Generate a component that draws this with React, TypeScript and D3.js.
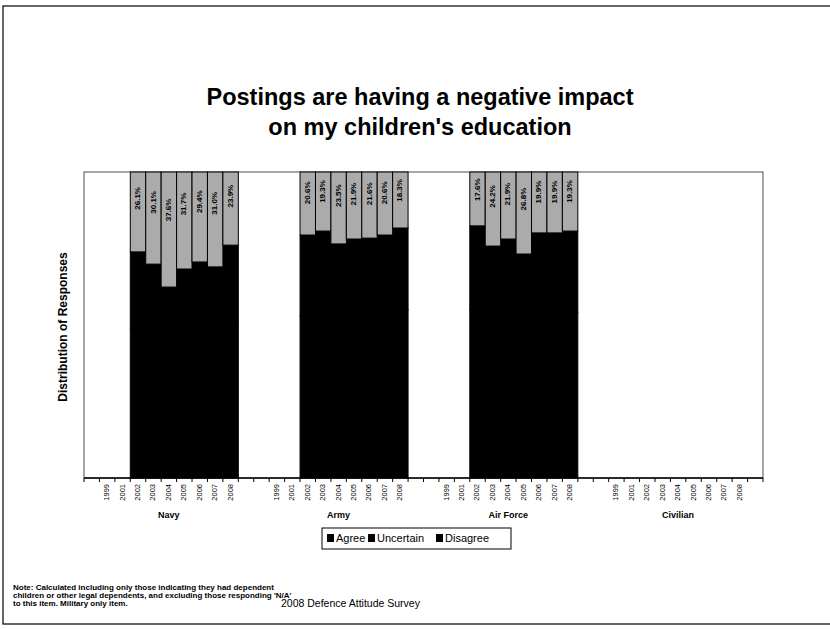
import React from 'react';
import * as d3 from 'd3';

// chart data
const services = ['Navy', 'Army', 'Air Force', 'Civilian'];
const years = ['1999', '2001', '2002', '2003', '2004', '2005', '2006', '2007', '2008'];
const seriesNames = ['Agree', 'Uncertain', 'Disagree'];

// values per service for 2002..2008 (1999/2001 and Civilian have no data)
const navyAgree = [48.5, 45.2, 39.0, 44.1, 46.3, 44.8, 50.6];
const navyUncertain = [25.4, 24.7, 23.4, 24.2, 24.3, 24.2, 25.5];
const navyDisagree = [26.1, 30.1, 37.6, 31.7, 29.4, 31.0, 23.9];

const armyAgree = [52.8, 54.0, 50.2, 51.6, 52.0, 53.1, 55.0];
const armyUncertain = [26.6, 26.7, 26.3, 26.5, 26.4, 26.3, 26.7];
const armyDisagree = [20.6, 19.3, 23.5, 21.9, 21.6, 20.6, 18.3];

const afAgree = [55.1, 49.6, 51.8, 47.0, 53.5, 53.7, 54.2];
const afUncertain = [27.3, 26.2, 26.3, 26.2, 26.6, 26.4, 26.5];
const afDisagree = [17.6, 24.2, 21.9, 26.8, 19.9, 19.9, 19.3];

const dataYears = ['2002', '2003', '2004', '2005', '2006', '2007', '2008'];

// the scan turns agree and uncertain into the same black
const colors: Record<string, string> = {
  Agree: '#000000',
  Uncertain: '#000000',
  Disagree: '#ababab',
};

const FONT = '"Liberation Sans", Arial, sans-serif';

function buildRows() {
  const table: { service: string; year: string; Agree: number; Uncertain: number; Disagree: number }[] = [];
  const per: [string, number[], number[], number[]][] = [
    ['Navy', navyAgree, navyUncertain, navyDisagree],
    ['Army', armyAgree, armyUncertain, armyDisagree],
    ['Air Force', afAgree, afUncertain, afDisagree],
  ];
  per.forEach(([s, a, u, d]) => {
    dataYears.forEach((y, i) => {
      table.push({ service: s, year: y, Agree: a[i], Uncertain: u[i], Disagree: d[i] });
    });
  });
  return table;
}

export default function App() {
  const width = 830;
  const height = 629;
  const margin = { top: 172, right: 67, bottom: 151, left: 84 };
  const plotW = width - margin.left - margin.right;
  const plotH = height - margin.top - margin.bottom;

  // each service gets a blank slot, its years, then another blank slot
  const slots: string[] = [];
  services.forEach((s) => {
    slots.push(s + '|pad0');
    years.forEach((y) => slots.push(s + '|' + y));
    slots.push(s + '|pad1');
  });

  const x = d3.scaleBand().domain(slots).range([margin.left, margin.left + plotW]).padding(0);
  const y = d3.scaleLinear().domain([0, 100]).range([margin.top + plotH, margin.top]);

  const rows = buildRows();
  const stack = d3.stack<any>().keys(seriesNames)(rows);

  const groupW = x.bandwidth() * (years.length + 2);

  return (
    <svg width={width} height={height} style={{ position: 'absolute', left: 0, top: 0, background: '#fff' }} fontFamily={FONT}>
      <rect x={3} y={6} width={860} height={618} fill="none" stroke="#000" strokeWidth={1.2} />

      <text x={420} y={105} textAnchor="middle" fontSize={23.5} fontWeight="bold">
        Postings are having a negative impact
      </text>
      <text x={420} y={135} textAnchor="middle" fontSize={23.5} fontWeight="bold">
        on my children's education
      </text>

      <text
        transform={`translate(67,${margin.top + plotH / 2 + 2}) rotate(-90)`}
        textAnchor="middle"
        fontSize={12}
        fontWeight="bold"
      >
        Distribution of Responses
      </text>

      {/* plot frame */}
      <rect x={margin.left} y={margin.top} width={plotW} height={plotH} fill="#fff" stroke="#222" strokeWidth={0.8} />

      {stack.map((layer) => (
        <g key={layer.key} fill={colors[layer.key]} stroke="#000" strokeWidth={1}>
          {layer.map((d: any, i: number) => (
            <rect
              key={i}
              x={x(d.data.service + '|' + d.data.year)}
              y={y(d[1])}
              width={x.bandwidth()}
              height={y(d[0]) - y(d[1])}
            />
          ))}
        </g>
      ))}

      {stack[2].map((d: any, i: number) => {
        const top = y(d[1]);
        const bot = y(d[0]);
        const cx = (x(d.data.service + '|' + d.data.year) as number) + x.bandwidth() / 2;
        const cy = top + (bot - top) * 0.33;
        return (
          <text
            key={i}
            transform={`translate(${cx},${cy}) rotate(-90)`}
            textAnchor="middle"
            dominantBaseline="middle"
            fontSize={8}
            fontWeight="bold"
            fill="#000"
          >
            {d.data.Disagree.toFixed(1) + '%'}
          </text>
        );
      })}

      {/* x axis */}
      <line x1={margin.left} x2={margin.left + plotW} y1={margin.top + plotH} y2={margin.top + plotH} stroke="#000" strokeWidth={1.5} />
      {slots.map((s, i) => (
        <line
          key={'t' + i}
          x1={x(s) as number}
          x2={x(s) as number}
          y1={margin.top + plotH}
          y2={margin.top + plotH + 4}
          stroke="#000"
          strokeWidth={1}
        />
      ))}
      <line x1={margin.left + plotW} x2={margin.left + plotW} y1={margin.top + plotH} y2={margin.top + plotH + 4} stroke="#000" />

      {services.map((s) =>
        years.map((yr) => (
          <text
            key={s + yr}
            transform={`translate(${(x(s + '|' + yr) as number) + x.bandwidth() / 2},${margin.top + plotH + 6}) rotate(-90)`}
            textAnchor="end"
            dominantBaseline="middle"
            fontSize={7.5}
          >
            {yr}
          </text>
        ))
      )}

      {services.map((s) => (
        <text
          key={s}
          x={(x(s + '|pad0') as number) + groupW / 2}
          y={518}
          textAnchor="middle"
          fontSize={9}
          fontWeight="bold"
        >
          {s}
        </text>
      ))}

      {/* legend */}
      <g>
        <rect x={322} y={528} width={189} height={21} fill="#fff" stroke="#000" strokeWidth={1} />
        {seriesNames.map((n, i) => {
          const offs = [327, 368, 436][i];
          return (
            <g key={n}>
              <rect x={offs} y={534} width={7} height={8} fill="#000" />
              <text x={offs + 9} y={542} fontSize={11}>
                {n}
              </text>
            </g>
          );
        })}
      </g>

      <g fontSize={8} fontWeight="bold">
        <text x={13} y={590}>Note: Calculated including only those indicating they had dependent</text>
        <text x={13} y={598}>children or other legal dependents, and excluding those responding 'N/A'</text>
        <text x={13} y={606}>to this item.  Military only item.</text>
      </g>
      <text x={281} y={607} fontSize={10.5}>
        2008 Defence Attitude Survey
      </text>
    </svg>
  );
}
